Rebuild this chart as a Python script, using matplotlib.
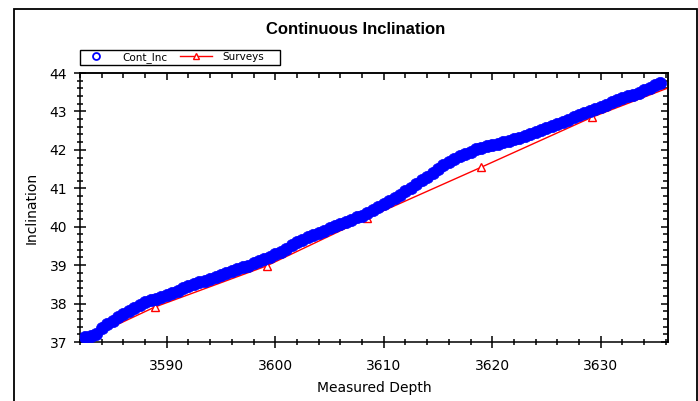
import matplotlib
matplotlib.use("Agg")
import matplotlib.pyplot as plt
from matplotlib.lines import Line2D
from matplotlib.patches import Rectangle
from matplotlib.ticker import MultipleLocator, NullFormatter

# ---- data ----
cont_md = [3582.5, 3583.0, 3583.5, 3584.0, 3584.5, 3585.0, 3585.5, 3586.0, 3586.5, 3587.0,
           3587.5, 3588.0, 3588.5, 3589.0, 3589.5, 3590.0, 3590.5, 3591.0, 3591.5, 3592.0,
           3592.5, 3593.0, 3593.5, 3594.0, 3594.5, 3595.0, 3595.5, 3596.0, 3596.5, 3597.0,
           3597.5, 3598.0, 3598.5, 3599.0, 3599.5, 3600.0, 3600.5, 3601.0, 3601.5, 3602.0,
           3602.5, 3603.0, 3603.5, 3604.0, 3604.5, 3605.0, 3605.5, 3606.0, 3606.5, 3607.0,
           3607.5, 3608.0, 3608.5, 3609.0, 3609.5, 3610.0, 3610.5, 3611.0, 3611.5, 3612.0,
           3612.5, 3613.0, 3613.5, 3614.0, 3614.5, 3615.0, 3615.5, 3616.0, 3616.5, 3617.0,
           3617.5, 3618.0, 3618.5, 3619.0, 3619.5, 3620.0, 3620.5, 3621.0, 3621.5, 3622.0,
           3622.5, 3623.0, 3623.5, 3624.0, 3624.5, 3625.0, 3625.5, 3626.0, 3626.5, 3627.0,
           3627.5, 3628.0, 3628.5, 3629.0, 3629.5, 3630.0, 3630.5, 3631.0, 3631.5, 3632.0,
           3632.5, 3633.0, 3633.5, 3634.0, 3634.5, 3635.0, 3635.5]
cont_inc = [37.13, 37.15, 37.22, 37.36, 37.46, 37.55, 37.64, 37.73, 37.81, 37.89,
            37.97, 38.03, 38.08, 38.12, 38.18, 38.23, 38.28, 38.34, 38.40, 38.45,
            38.50, 38.55, 38.60, 38.65, 38.70, 38.75, 38.80, 38.85, 38.89, 38.94,
            38.99, 39.05, 39.10, 39.16, 39.22, 39.28, 39.35, 39.43, 39.52, 39.60,
            39.66, 39.72, 39.78, 39.84, 39.90, 39.96, 40.01, 40.06, 40.12, 40.18,
            40.24, 40.29, 40.36, 40.44, 40.52, 40.59, 40.67, 40.75, 40.83, 40.93,
            41.02, 41.11, 41.21, 41.30, 41.40, 41.50, 41.60, 41.69, 41.77, 41.84,
            41.89, 41.95, 42.01, 42.05, 42.09, 42.13, 42.16, 42.20, 42.24, 42.28,
            42.32, 42.37, 42.41, 42.46, 42.51, 42.57, 42.62, 42.67, 42.73, 42.78,
            42.85, 42.92, 42.96, 43.01, 43.06, 43.12, 43.18, 43.24, 43.29, 43.34,
            43.39, 43.44, 43.49, 43.55, 43.62, 43.69, 43.74]

surv_md = [3578.6, 3588.9, 3599.2, 3608.5, 3619.0, 3629.2, 3639.5]
surv_inc = [36.55, 37.91, 38.98, 40.23, 41.55, 42.85, 43.97]

title = "Continuous Inclination"
xlabel = "Measured Depth"
ylabel = "Inclination"
series_names = ["Cont_Inc", "Surveys"]

# ---- figure ----
W, H = 698, 401
fig = plt.figure(figsize=(W / 100, H / 100), dpi=100)
fig.patch.set_facecolor("white")

# outer frame
fig.patches.append(Rectangle((14 / W, -0.05), (697 - 14) / W, (401 - 9) / H + 0.05,
                             transform=fig.transFigure, fill=False,
                             edgecolor="black", linewidth=1.3))

ax = fig.add_axes([80 / W, (H - 342) / H, (668 - 80) / W, (342 - 73) / H])

ax.plot(surv_md, surv_inc, color="#ff0000", linewidth=1.0, marker="^",
        markersize=6, markerfacecolor="white", markeredgecolor="#ff0000",
        markeredgewidth=1.0, zorder=2)
ax.plot(cont_md, cont_inc, linestyle="none", marker="o", markersize=8.8,
        markerfacecolor="#0000ff", markeredgecolor="#0000ff", markeredgewidth=0.5,
        zorder=3)

ax.set_xlim(3582.0, 3636.2)
ax.set_ylim(37, 44)
ax.xaxis.set_major_locator(MultipleLocator(10))
ax.xaxis.set_minor_locator(MultipleLocator(2))
ax.yaxis.set_major_locator(MultipleLocator(1))
ax.yaxis.set_minor_locator(MultipleLocator(0.2))

for s in ax.spines.values():
    s.set_linewidth(1.1)
    s.set_color("black")

ax.tick_params(axis="both", which="major", direction="inout", length=8.5, width=1.1,
               labelsize=10, colors="black")
ax.tick_params(axis="both", which="minor", direction="inout", length=5, width=1.1)
ax.tick_params(axis="x", which="major", pad=8)
ax.tick_params(axis="y", which="major", pad=5)

# top and right ticks pointing inward only
secx = ax.secondary_xaxis("top")
secx.xaxis.set_major_locator(MultipleLocator(10))
secx.xaxis.set_minor_locator(MultipleLocator(2))
secx.xaxis.set_major_formatter(NullFormatter())
secy = ax.secondary_yaxis("right")
secy.yaxis.set_major_locator(MultipleLocator(1))
secy.yaxis.set_minor_locator(MultipleLocator(0.2))
secy.yaxis.set_major_formatter(NullFormatter())
for sec in (secx, secy):
    sec.tick_params(which="major", direction="in", length=5, width=1.1)
    sec.tick_params(which="minor", direction="in", length=3.5, width=1.1)
    for s in sec.spines.values():
        s.set_linewidth(1.1)

ax.set_xlabel(xlabel, fontsize=10, labelpad=6)
ax.set_ylabel(ylabel, fontsize=10, labelpad=8)

fig.text(356 / W, 1 - 30 / H, title, ha="center", va="center",
         fontsize=12, fontweight="bold", family="Liberation Sans")

# legend
handles = [
    Line2D([], [], linestyle="none", marker="o", markersize=5,
           markerfacecolor="white", markeredgecolor="#0000ff", markeredgewidth=1.3),
    Line2D([], [], color="#ff0000", linewidth=1.0, marker="^", markersize=5,
           markerfacecolor="white", markeredgecolor="#ff0000"),
]
fs = 7.5
leg = fig.legend(handles, series_names, loc="center left",
                 bbox_to_anchor=(80 / W, 1 - 57.5 / H),
                 ncol=2, fontsize=fs, frameon=False,
                 borderpad=0.0, borderaxespad=0, handlelength=3.0,
                 handletextpad=1.05, columnspacing=1.25)
fig.patches.append(Rectangle((80 / W, 1 - 65 / H), 200 / W, 15 / H,
                             transform=fig.transFigure, fill=False,
                             edgecolor="black", linewidth=1.0))

fig.savefig("out.png", dpi=100)
